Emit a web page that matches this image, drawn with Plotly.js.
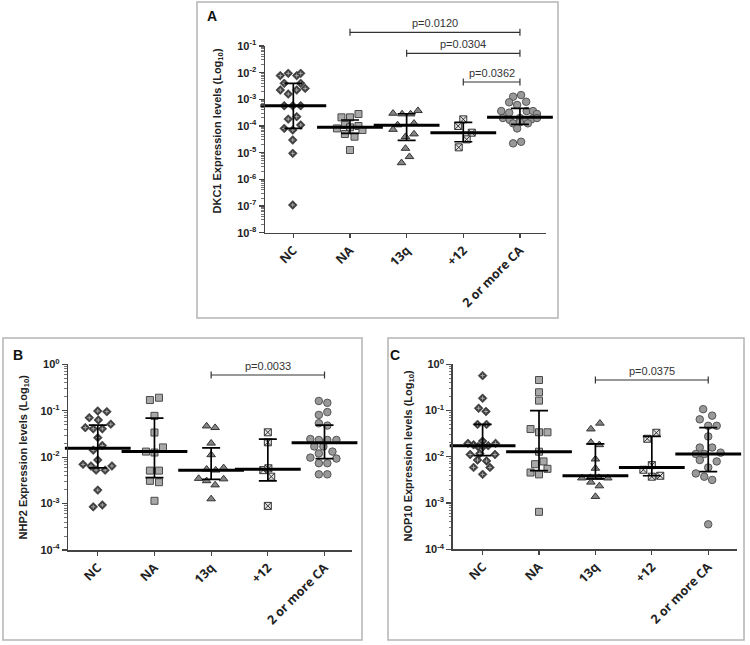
<!DOCTYPE html>
<html><head><meta charset="utf-8">
<script src="https://cdn.plot.ly/plotly-3.0.1.min.js"></script>
<style>body{margin:0;background:#fff}#chart{width:750px;height:645px}</style>
</head><body><div id="chart"></div>
<script>
const categories = ["NC", "NA", "13q", "+12", "2 or more CA"];

// ---- Panel A: DKC1 (log10 expression) and horizontal spread of each point ----
const dkc1_NC  = [-2.11,-2.025,-2.11,-2.025,-2.4,-2.4,-2.65,-2.8,-2.65,-2.59,-3.24,-3.24,-3.24,-3.74,-3.65,-4.09,-4.15,-3.96,-4.525,-5.025,-6.96];
const dkc1_NC_dx = [-0.23,-0.09,0.06,0.13,-0.16,0.13,-0.23,-0.09,0.06,0.21,-0.16,-0.01,0.13,-0.09,0.06,-0.16,-0.01,0.13,-0.01,-0.01,-0.01];
const dkc1_NA  = [-3.675,-3.675,-3.55,-4.09,-3.96,-4.05,-4.0,-4.15,-4.3,-4.4,-4.9];
const dkc1_NA_dx = [-0.15,0,0.15,-0.23,-0.09,0,0.15,0.22,-0.09,0.08,0];
const dkc1_13q = [-3.525,-3.55,-3.55,-3.425,-3.96,-3.9,-4.13,-4.3,-4.4,-4.84,-5.15,-5.38];
const dkc1_13q_dx = [-0.24,-0.08,0.07,0.2,-0.16,0.13,-0.24,0.13,-0.02,-0.02,0.05,-0.09];
const dkc1_p12 = [-3.75,-4.0,-4.25,-4.5,-4.8];
const dkc1_p12_dx = [0,-0.09,0.15,0.06,-0.08];
const dkc1_CA  = [-2.9,-2.84,-3.11,-3.09,-3.21,-3.44,-3.5,-3.44,-3.44,-3.55,-3.7,-3.77,-3.7,-3.8,-3.75,-3.7,-3.9,-3.86,-3.9,-4.09,-4.65,-4.59];
const dkc1_CA_dx = [-0.12,0.02,-0.19,0.11,-0.05,-0.33,-0.19,0.12,0.23,0.3,-0.3,-0.18,0,0.08,0.2,0.3,-0.12,0,0.14,-0.05,-0.12,0.02];
const dkc1_median = [-3.24,-4.05,-3.97,-4.25,-3.675];
const dkc1_q1     = [-4.09,-4.275,-4.54,-4.59,-3.94];
const dkc1_q3     = [-2.4,-3.775,-3.54,-3.86,-3.34];

// ---- Panel B: NHP2 ----
const nhp2_NC  = [-1.006,-1.02,-1.15,-1.2,-1.29,-1.365,-1.39,-1.39,-1.58,-1.85,-1.75,-2.06,-2.155,-2.19,-2.19,-2.28,-2.28,-2.71,-3.07,-3.03];
const nhp2_NC_dx = [0,0.16,-0.15,0.01,0.23,-0.22,-0.08,0.08,0,-0.08,0.08,0,-0.26,-0.12,0.25,-0.03,0.13,0,-0.08,0.08];
const nhp2_NA  = [-0.77,-0.72,-1.11,-1.47,-1.79,-1.88,-1.9,-2.29,-2.29,-2.51,-2.54,-2.94];
const nhp2_NA_dx = [-0.08,0.08,0,0,0.15,-0.15,0,-0.08,0.08,-0.08,0.08,0];
const nhp2_13q = [-1.33,-1.365,-1.7,-1.95,-2.26,-2.28,-2.23,-2.46,-2.51,-2.47,-2.6,-2.9];
const nhp2_13q_dx = [-0.08,0.07,0,0,-0.08,0.08,0.22,-0.22,-0.08,0.22,0.07,0];
const nhp2_p12 = [-1.465,-1.68,-2.28,-2.24,-2.42,-3.05];
const nhp2_p12_dx = [0,0,-0.08,0.01,0.06,0];
const nhp2_CA  = [-0.79,-0.83,-1.09,-1.03,-1.27,-1.32,-1.61,-1.63,-1.63,-1.63,-1.77,-1.77,-1.88,-1.92,-2.01,-2.03,-2.13,-2.13,-2.37,-2.37];
const nhp2_CA_dx = [-0.1,0.05,-0.1,0.05,-0.1,0.05,-0.25,-0.1,0.05,0.21,-0.18,-0.02,0.14,-0.1,-0.25,0.21,-0.1,0.05,-0.1,0.05];
const nhp2_median = [-1.81,-1.88,-2.28,-2.26,-1.69];
const nhp2_q1     = [-2.23,-2.44,-2.48,-2.51,-2.03];
const nhp2_q3     = [-1.31,-1.16,-1.8,-1.61,-1.31];

// ---- Panel C: NOP10 ----
const nop10_NC  = [-0.245,-0.735,-0.95,-1.02,-1.3,-1.3,-1.66,-1.71,-1.74,-1.78,-1.78,-1.76,-1.71,-1.95,-1.93,-1.95,-2.07,-2.09,-2.23,-2.23,-2.38];
const nop10_NC_dx = [0,0,-0.07,0.06,-0.09,0.07,0,-0.26,-0.16,-0.08,0.01,0.1,0.23,-0.22,-0.05,0.22,-0.09,0.07,-0.16,0.13,0];
const nop10_NA  = [-0.34,-0.605,-0.785,-1.4,-1.47,-1.47,-1.89,-2.16,-2.1,-2.34,-2.38,-2.26,-3.19];
const nop10_NA_dx = [0,0,0,-0.15,0,0.15,0,-0.07,0.08,-0.15,0,0.15,0];
const nop10_13q = [-1.275,-1.4,-1.69,-1.74,-2.05,-2.25,-2.46,-2.45,-2.45,-2.46,-2.55,-2.63,-2.86];
const nop10_13q_dx = [0.08,-0.08,-0.08,0.07,0,0,-0.24,-0.09,0.06,0.22,-0.08,0.07,0];
const nop10_p12 = [-1.48,-1.61,-2.18,-2.28,-2.43,-2.41];
const nop10_p12_dx = [0.08,-0.08,0,-0.15,0,0.15];
const nop10_CA  = [-0.97,-1.11,-1.19,-1.33,-1.33,-1.56,-1.8,-1.8,-1.94,-1.94,-1.91,-2.07,-2.1,-2.23,-2.36,-2.43,-2.5,-3.46];
const nop10_CA_dx = [-0.09,0.07,-0.15,0,0.15,0,-0.15,0.07,-0.22,-0.07,0.22,-0.15,0.15,0,-0.22,-0.07,0.07,0];
const nop10_median = [-1.76,-1.89,-2.41,-2.23,-1.94];
const nop10_q1     = [-1.975,-2.3,-2.47,-2.41,-2.32];
const nop10_q3     = [-1.3,-1.0,-1.72,-1.56,-1.37];

// significance comparisons: [from group index, to group index, label]
const sigA = [[1,4,"p=0.0120"],[2,4,"p=0.0304"],[3,4,"p=0.0362"]];
const sigB = [[2,4,"p=0.0033"]];
const sigC = [[2,4,"p=0.0375"]];

const yTitles = ["DKC1 Expression levels (Log<sub>10</sub>)", "NHP2 Expression levels (Log<sub>10</sub>)", "NOP10 Expression levels (Log<sub>10</sub>)"];
const panelLetters = ["A","B","C"];

// ---------------- build figure ----------------
const W = 750, H = 645;
const px = v => v / W, py = v => 1 - v / H;

const styles = [
  {symbol:'diamond', color:'#3c3c3c', line:{color:'#3c3c3c', width:0.6}, size:6.8},
  {symbol:'square', color:'#a8a8a8', line:{color:'#4a4a4a', width:1}, size:7},
  {symbol:'triangle-up', color:'#858585', line:{color:'#333', width:1}, size:7.5},
  {symbol:'square-x', color:'#e4e4e4', line:{color:'#333', width:1}, size:7},
  {symbol:'circle', color:'#999999', line:{color:'#555', width:1}, size:7.5}
];
const crossStyle = {symbol:'cross-thin', size:3, color:'#bdbdbd', line:{color:'#bdbdbd', width:0.8}};

const panels = [
  {groups:[[dkc1_NC,dkc1_NC_dx],[dkc1_NA,dkc1_NA_dx],[dkc1_13q,dkc1_13q_dx],[dkc1_p12,dkc1_p12_dx],[dkc1_CA,dkc1_CA_dx]],
   med:dkc1_median, q1:dkc1_q1, q3:dkc1_q3, sig:sigA, sigY:[32.3,53.3,82],
   xdom:[265,546], xr:[-0.5,4.46], ydom:[232.7,46], yr:[-8,-1],
   frame:[197,2,558,318], letter:[212,16], title:[218,131.5]},
  {groups:[[nhp2_NC,nhp2_NC_dx],[nhp2_NA,nhp2_NA_dx],[nhp2_13q,nhp2_13q_dx],[nhp2_p12,nhp2_p12_dx],[nhp2_CA,nhp2_CA_dx]],
   med:nhp2_median, q1:nhp2_q1, q3:nhp2_q3, sig:sigB, sigY:[375],
   xdom:[68.3,352], xr:[-0.52,4.485], ydom:[550,364.3], yr:[-4,0],
   frame:[3,338,362,640], letter:[18,355], title:[23,457.5]},
  {groups:[[nop10_NC,nop10_NC_dx],[nop10_NA,nop10_NA_dx],[nop10_13q,nop10_13q_dx],[nop10_p12,nop10_p12_dx],[nop10_CA,nop10_CA_dx]],
   med:nop10_median, q1:nop10_q1, q3:nop10_q3, sig:sigC, sigY:[380],
   xdom:[452.7,737], xr:[-0.53,4.51], ydom:[549.3,364.3], yr:[-4,0],
   frame:[388,338,744,640], letter:[395,355], title:[408,455.5]}
];

function minorVals(lo, hi){ const o=[]; for(let e=lo;e<hi;e++) for(let k=2;k<=9;k++) o.push(k*Math.pow(10,e)); return o; }

const traces = [], shapes = [], annotations = [];
const layout = {width:W, height:H, margin:{l:0,r:0,t:0,b:0}, showlegend:false, hovermode:false,
  paper_bgcolor:'#fff', plot_bgcolor:'rgba(0,0,0,0)', shapes, annotations};

panels.forEach((p, pi) => {
  const xa = pi === 0 ? 'x' : 'x' + (pi+1), ya = pi === 0 ? 'y' : 'y' + (pi+1);
  const xk = pi === 0 ? 'xaxis' : 'xaxis' + (pi+1), yk = pi === 0 ? 'yaxis' : 'yaxis' + (pi+1);
  // points
  p.groups.forEach((g, gi) => {
    const xs = g[1].map(d => gi + d), ys = g[0].map(v => Math.pow(10, v));
    traces.push({type:'scatter', mode:'markers', xaxis:xa, yaxis:ya, x: xs, y: ys,
      marker: styles[gi], cliponaxis:false});
    if (gi === 0) traces.push({type:'scatter', mode:'markers', xaxis:xa, yaxis:ya, x: xs, y: ys,
      marker: crossStyle, cliponaxis:false});
  });
  // median with interquartile range
  const medV = p.med.map(v => Math.pow(10, v));
  traces.push({type:'scatter', mode:'markers', xaxis:xa, yaxis:ya,
    x: categories.map((c, i) => i), y: medV,
    marker:{symbol:'line-ew', size:47, line:{width:3, color:'#000'}},
    error_y:{type:'data', symmetric:false,
      array: p.q3.map((v,i) => Math.pow(10,v) - medV[i]),
      arrayminus: p.q1.map((v,i) => medV[i] - Math.pow(10,v)),
      color:'#000', thickness:1.7, width:9}, cliponaxis:false});

  const decades = [];
  for (let e = p.yr[0]; e <= p.yr[1]; e++) decades.push(e);
  layout[xk] = {domain:[px(p.xdom[0]), px(p.xdom[1])], range:p.xr, anchor:ya,
    tickmode:'array', tickvals:categories.map((c,i)=>i), ticktext:categories, tickangle:-45,
    ticks:'outside', ticklen:4, tickwidth:1.2, tickcolor:'#444',
    showline:true, linecolor:'#444', linewidth:1.5, showgrid:false, zeroline:false,
    tickfont:{family:'Open Sans, sans-serif', size:12.5, color:'#222', weight:'bold'}};
  layout[yk] = {type:'log', domain:[py(p.ydom[0]), py(p.ydom[1])], range:p.yr, anchor:xa,
    tickmode:'array', tickvals:decades.map(e => Math.pow(10,e)),
    ticktext:decades.map(e => '10<sup>' + e + '</sup>'),
    ticks:'outside', ticklen:5, tickwidth:1.2, tickcolor:'#444',
    minor:{tickmode:'array', tickvals:minorVals(p.yr[0], p.yr[1]), ticks:'outside', ticklen:2.5, tickwidth:0.8, tickcolor:'#555'},
    showline:true, linecolor:'#444', linewidth:1.5, showgrid:false, zeroline:false,
    tickfont:{family:'Liberation Sans, Arial, sans-serif', size:11, color:'#222', weight:'bold'}};

  // frame
  shapes.push({type:'rect', xref:'paper', yref:'paper', x0:px(p.frame[0]), x1:px(p.frame[2]),
    y0:py(p.frame[3]), y1:py(p.frame[1]), line:{color:'#b4b4b4', width:1.5}, layer:'below'});
  // significance brackets
  p.sig.forEach((s, si) => {
    const yy = p.sigY[si];
    shapes.push({type:'line', xref:xa, yref:'paper', x0:s[0], x1:s[1], y0:py(yy), y1:py(yy), line:{color:'#333', width:1.2}});
    [s[0], s[1]].forEach(xv => shapes.push({type:'line', xref:xa, yref:'paper', x0:xv, x1:xv,
      y0:py(yy-3.5), y1:py(yy+3.5), line:{color:'#333', width:1.2}}));
    annotations.push({xref:xa, yref:'paper', x:(s[0]+s[1])/2, y:py(yy-1), yanchor:'bottom', xanchor:'center',
      text:s[2], showarrow:false, font:{family:'Liberation Sans, Arial, sans-serif', size:11, color:'#333'}});
  });
  // panel letter
  annotations.push({xref:'paper', yref:'paper', x:px(p.letter[0]), y:py(p.letter[1]), xanchor:'center', yanchor:'middle',
    text:'<b>' + panelLetters[pi] + '</b>', showarrow:false, font:{family:'Liberation Sans, Arial, sans-serif', size:14, color:'#111'}});
  // y axis title
  annotations.push({xref:'paper', yref:'paper', x:px(p.title[0]), y:py(p.title[1]), xanchor:'center', yanchor:'middle',
    textangle:-90, text:'<b>' + yTitles[pi] + '</b>', showarrow:false,
    font:{family:'Liberation Sans, Arial, sans-serif', size:11, color:'#222'}});
});

Plotly.newPlot('chart', traces, layout, {staticPlot:true, displayModeBar:false});
</script></body></html>
